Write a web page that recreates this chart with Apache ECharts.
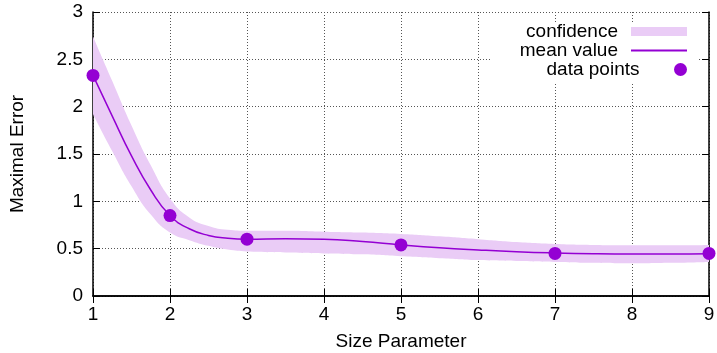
<!DOCTYPE html>
<html>
<head>
<meta charset="utf-8">
<script src="https://cdn.jsdelivr.net/npm/echarts@6/dist/echarts.min.js"></script>
<style>
  html, body { margin: 0; padding: 0; background: #fff; }
  #chart { width: 717px; height: 353px; }
</style>
</head>
<body>
<div id="chart"></div>
<script>
  // values
  const sampleX = [1, 1.25, 1.5, 1.75, 2, 2.25, 2.5, 2.75, 3, 3.5, 4, 4.5, 5, 5.5, 6, 6.5, 7, 7.5, 8, 8.5, 9]
  const meanVals = [2.33, 1.90, 1.48, 1.12, 0.85, 0.71, 0.64, 0.61, 0.60, 0.605, 0.60, 0.575, 0.54, 0.51, 0.487, 0.468, 0.455, 0.447, 0.444, 0.444, 0.447]
  const upperVals = [2.74, 2.27, 1.80, 1.38, 1.03, 0.83, 0.74, 0.70, 0.69, 0.69, 0.68, 0.67, 0.655, 0.63, 0.60, 0.57, 0.55, 0.54, 0.535, 0.535, 0.54]
  const lowerVals = [1.92, 1.53, 1.16, 0.86, 0.67, 0.59, 0.53, 0.49, 0.47, 0.46, 0.45, 0.44, 0.42, 0.40, 0.38, 0.37, 0.36, 0.35, 0.345, 0.35, 0.36]
  const pointX = [1, 2, 3, 5, 7, 9]
  const pointY = [2.33, 0.85, 0.60, 0.54, 0.45, 0.45]

  const violet = '#9400d3'
  const bandColor = '#eaccf6'
  const font = 'Liberation Sans, Arial, sans-serif'
  const fs = 19

  const chart = echarts.init(document.getElementById('chart'))

  const baseAxis = {
    axisLine: { show: true, lineStyle: { color: '#000', width: 1.5 } },
    axisTick: { show: true, inside: true, length: 7, lineStyle: { color: '#000', width: 1 } },
    splitLine: { show: false },
    axisLabel: { show: false }
  }

  const legendText = { fontSize: fs, color: '#000', fontFamily: font, lineHeight: 19, padding: [0, 8, 0, 0] }
  const legendBase = {
    orient: 'vertical', align: 'right', right: 30, padding: 0,
    itemWidth: 56, selectedMode: false, textStyle: legendText
  }

  // band rows are [y, x] so the stack runs on y (value/value axes stack the first column)
  const bandEncode = { x: 1, y: 0 }

  chart.setOption({
    animation: false,
    grid: { left: 93, right: 8, top: 12, bottom: 57, outerBoundsMode: 'none' },
    graphic: [{
      type: 'rect', left: 492, top: 23, z: 1,
      shape: { width: 206, height: 60 },
      style: { fill: '#fff' }
    }],
    legend: [
      Object.assign({}, legendBase, { top: 22, itemHeight: 9, data: [{ name: 'confidence', icon: 'rect', itemStyle: { color: bandColor, opacity: 1 } }] }),
      Object.assign({}, legendBase, { top: 41, itemHeight: 2, data: [{ name: 'mean value', icon: 'rect', itemStyle: { color: violet, opacity: 1 } }] }),
      Object.assign({}, legendBase, { top: 60, itemHeight: 13, data: [{ name: 'data points', icon: 'circle', itemStyle: { color: violet, opacity: 1 } }] })
    ],
    xAxis: [
      Object.assign({}, baseAxis, {
        type: 'value', min: 1, max: 9, interval: 1, position: 'bottom',
        name: 'Size Parameter', nameLocation: 'middle', nameGap: 36,
        nameTextStyle: { fontSize: fs, color: '#000', fontFamily: font },
        axisLabel: { show: true, fontSize: fs, color: '#000', fontFamily: font, margin: 9 },
        splitLine: { show: true, lineStyle: { color: '#555', width: 1, type: [1, 2] } }
      }),
      Object.assign({}, baseAxis, { type: 'value', min: 1, max: 9, interval: 1, position: 'top' })
    ],
    yAxis: [
      Object.assign({}, baseAxis, {
        type: 'value', min: 0, max: 3, interval: 0.5, position: 'left',
        name: 'Maximal Error', nameLocation: 'middle', nameGap: 66,
        nameTextStyle: { fontSize: fs, color: '#000', fontFamily: font },
        axisLabel: { show: true, fontSize: fs, color: '#000', fontFamily: font, margin: 10 },
        splitLine: { show: true, lineStyle: { color: '#555', width: 1, type: [1, 2] } }
      }),
      Object.assign({}, baseAxis, { type: 'value', min: 0, max: 3, interval: 0.5, position: 'right' })
    ],
    series: [
      {
        name: 'lower', type: 'line', stack: 'band', smooth: true, symbol: 'none',
        lineStyle: { width: 0 }, silent: true, encode: bandEncode,
        data: sampleX.map((x, i) => [lowerVals[i], x])
      },
      {
        name: 'confidence', type: 'line', stack: 'band', smooth: true, symbol: 'none',
        lineStyle: { width: 0 }, areaStyle: { color: bandColor, opacity: 1 }, silent: true, encode: bandEncode,
        data: sampleX.map((x, i) => [+(upperVals[i] - lowerVals[i]).toFixed(3), x])
      },
      {
        name: 'mean value', type: 'line', smooth: true, symbol: 'none', z: 3,
        lineStyle: { color: violet, width: 1.5 }, itemStyle: { color: violet },
        data: sampleX.map((x, i) => [x, meanVals[i]])
      },
      {
        name: 'data points', type: 'scatter', symbolSize: 13, z: 4,
        itemStyle: { color: violet, opacity: 1 },
        data: pointX.map((x, i) => [x, pointY[i]])
      }
    ]
  })
</script>
</body>
</html>
